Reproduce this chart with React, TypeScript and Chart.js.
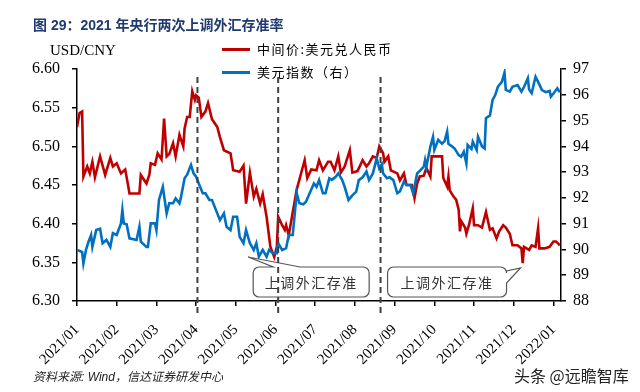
import React, { useEffect, useRef } from "react";
import { Chart, registerables } from "chart.js";

Chart.register(...registerables);

const monthLabels = [
  "2021/01", "2021/02", "2021/03", "2021/04", "2021/05", "2021/06", "2021/07",
  "2021/08", "2021/09", "2021/10", "2021/11", "2021/12", "2022/01",
];

const cnyDates = [
  "2021-01-01", "2021-01-03", "2021-01-05", "2021-01-06", "2021-01-09", "2021-01-11", "2021-01-13", "2021-01-15",
  "2021-01-19", "2021-01-23", "2021-01-27", "2021-01-29", "2021-02-01", "2021-02-04", "2021-02-07", "2021-02-09",
  "2021-02-10", "2021-02-17", "2021-02-18", "2021-02-22", "2021-02-24", "2021-02-25", "2021-02-28", "2021-03-02",
  "2021-03-05", "2021-03-07", "2021-03-09", "2021-03-11", "2021-03-14", "2021-03-16", "2021-03-19", "2021-03-22",
  "2021-03-23", "2021-03-25", "2021-03-27", "2021-03-29", "2021-03-31", "2021-04-01", "2021-04-03", "2021-04-05",
  "2021-04-08", "2021-04-10", "2021-04-13", "2021-04-17", "2021-04-19", "2021-04-22", "2021-04-27", "2021-04-29",
  "2021-05-04", "2021-05-07", "2021-05-09", "2021-05-12", "2021-05-15", "2021-05-17", "2021-05-20", "2021-05-22",
  "2021-05-25", "2021-05-28", "2021-05-31", "2021-06-02", "2021-06-03", "2021-06-06", "2021-06-08", "2021-06-09",
  "2021-06-11", "2021-06-17", "2021-06-23", "2021-06-25", "2021-06-28", "2021-07-02", "2021-07-04", "2021-07-07",
  "2021-07-11", "2021-07-13", "2021-07-16", "2021-07-19", "2021-07-21", "2021-07-24", "2021-07-28", "2021-07-30",
  "2021-08-03", "2021-08-07", "2021-08-10", "2021-08-12", "2021-08-15", "2021-08-18", "2021-08-20", "2021-08-23",
  "2021-08-24", "2021-08-27", "2021-08-29", "2021-09-03", "2021-09-05", "2021-09-08", "2021-09-10", "2021-09-14",
  "2021-09-16", "2021-09-18", "2021-09-20", "2021-09-23", "2021-09-25", "2021-09-28", "2021-09-29", "2021-10-07",
  "2021-10-08", "2021-10-11", "2021-10-12", "2021-10-13", "2021-10-16", "2021-10-18", "2021-10-20", "2021-10-21",
  "2021-10-22", "2021-10-25", "2021-10-26", "2021-10-28", "2021-10-31", "2021-11-01", "2021-11-04", "2021-11-07",
  "2021-11-10", "2021-11-13", "2021-11-15", "2021-11-18", "2021-11-20", "2021-11-23", "2021-11-25", "2021-11-28",
  "2021-11-30", "2021-12-04", "2021-12-07", "2021-12-08", "2021-12-09", "2021-12-13", "2021-12-15", "2021-12-18",
  "2021-12-20", "2021-12-21", "2021-12-25", "2021-12-29", "2022-01-01", "2022-01-03", "2022-01-06",
];
const cnyValues = [
  6.525, 6.543, 6.545, 6.461, 6.474, 6.465, 6.48, 6.46,
  6.487, 6.463, 6.485, 6.474, 6.478, 6.465, 6.47, 6.45,
  6.439, 6.439, 6.463, 6.452, 6.463, 6.478, 6.476, 6.491,
  6.483, 6.536, 6.487, 6.49, 6.504, 6.487, 6.515, 6.5,
  6.523, 6.538, 6.538, 6.571, 6.56, 6.566, 6.563, 6.538,
  6.545, 6.556, 6.535, 6.525, 6.512, 6.495, 6.491, 6.469,
  6.467, 6.475, 6.426, 6.466, 6.435, 6.445, 6.426, 6.438,
  6.409, 6.37, 6.357, 6.37, 6.409, 6.398, 6.392, 6.398,
  6.385, 6.444, 6.482, 6.459, 6.47, 6.469, 6.482, 6.469,
  6.48, 6.48, 6.469, 6.487, 6.466, 6.474, 6.495, 6.466,
  6.468, 6.482, 6.474, 6.478, 6.487, 6.485, 6.5, 6.491,
  6.48, 6.487, 6.469, 6.465, 6.456, 6.465, 6.45, 6.45,
  6.433, 6.452, 6.461, 6.462, 6.472, 6.461, 6.487, 6.487,
  6.459, 6.448, 6.461, 6.443, 6.435, 6.431, 6.418, 6.39,
  6.403, 6.395, 6.387, 6.398, 6.42, 6.398, 6.398, 6.395,
  6.415, 6.392, 6.394, 6.381, 6.39, 6.398, 6.395, 6.387,
  6.372, 6.372, 6.368, 6.349, 6.37, 6.366, 6.372, 6.37,
  6.394, 6.368, 6.368, 6.37, 6.377, 6.377, 6.372,
];

const dxyDates = [
  "2021-01-01", "2021-01-05", "2021-01-06", "2021-01-08", "2021-01-10", "2021-01-12", "2021-01-13", "2021-01-16",
  "2021-01-19", "2021-01-21", "2021-01-24", "2021-01-27", "2021-01-29", "2021-02-01", "2021-02-04", "2021-02-05",
  "2021-02-06", "2021-02-08", "2021-02-10", "2021-02-15", "2021-02-17", "2021-02-18", "2021-02-22", "2021-02-23",
  "2021-02-25", "2021-02-28", "2021-03-01", "2021-03-03", "2021-03-06", "2021-03-09", "2021-03-11", "2021-03-14",
  "2021-03-16", "2021-03-19", "2021-03-20", "2021-03-23", "2021-03-25", "2021-03-28", "2021-03-30", "2021-04-01",
  "2021-04-03", "2021-04-06", "2021-04-08", "2021-04-11", "2021-04-13", "2021-04-17", "2021-04-19", "2021-04-22",
  "2021-04-24", "2021-04-27", "2021-04-29", "2021-05-02", "2021-05-04", "2021-05-07", "2021-05-09", "2021-05-12",
  "2021-05-15", "2021-05-17", "2021-05-19", "2021-05-22", "2021-05-25", "2021-05-27", "2021-05-30", "2021-06-02",
  "2021-06-03", "2021-06-06", "2021-06-09", "2021-06-11", "2021-06-14", "2021-06-17", "2021-06-19", "2021-06-22",
  "2021-06-24", "2021-06-30", "2021-07-02", "2021-07-04", "2021-07-07", "2021-07-09", "2021-07-12", "2021-07-14",
  "2021-07-17", "2021-07-19", "2021-07-22", "2021-07-24", "2021-07-27", "2021-07-30", "2021-08-02", "2021-08-04",
  "2021-08-07", "2021-08-10", "2021-08-12", "2021-08-15", "2021-08-18", "2021-08-20", "2021-08-22", "2021-08-23",
  "2021-08-26", "2021-08-28", "2021-08-31", "2021-09-03", "2021-09-05", "2021-09-08", "2021-09-10", "2021-09-13",
  "2021-09-15", "2021-09-18", "2021-09-20", "2021-09-23", "2021-09-24", "2021-09-25", "2021-09-28", "2021-09-30",
  "2021-10-01", "2021-10-04", "2021-10-07", "2021-10-09", "2021-10-11", "2021-10-12", "2021-10-15", "2021-10-17",
  "2021-10-20", "2021-10-22", "2021-10-24", "2021-10-26", "2021-10-27", "2021-10-30", "2021-10-31", "2021-11-03",
  "2021-11-04", "2021-11-07", "2021-11-09", "2021-11-10", "2021-11-13", "2021-11-15", "2021-11-17", "2021-11-19",
  "2021-11-22", "2021-11-24", "2021-11-25", "2021-11-28", "2021-11-30", "2021-12-04", "2021-12-07", "2021-12-09",
  "2021-12-12", "2021-12-13", "2021-12-15", "2021-12-18", "2021-12-20", "2021-12-23", "2021-12-26", "2021-12-29",
  "2021-12-30", "2022-01-01", "2022-01-04", "2022-01-06",
];
const dxyValues = [
  89.98, 89.9, 89.46, 89.98, 90.3, 90.56, 90.1, 90.75,
  90.8, 90.24, 90.37, 90.1, 90.63, 90.56, 91.01, 91.53,
  91.01, 90.98, 90.43, 90.37, 90.88, 90.3, 90.1, 90.1,
  91.01, 91.01, 90.75, 91.92, 92.43, 91.4, 91.79, 91.79,
  91.98, 91.79, 91.98, 92.76, 92.9, 93.28, 92.95, 92.82,
  92.56, 92.18, 92.18, 91.92, 91.92, 91.4, 91.14, 91.4,
  90.88, 90.75, 91.27, 91.27, 90.49, 90.24, 90.75, 90.24,
  89.98, 90.24, 89.72, 89.98, 89.72, 89.98, 89.85, 89.85,
  90.24, 89.98, 90.05, 90.56, 90.56, 92.18, 91.79, 91.75,
  91.85, 92.56, 92.43, 92.69, 92.18, 92.18, 92.76, 92.7,
  92.82, 92.95, 92.7, 92.43, 91.92, 92.1, 92.24, 92.69,
  92.8, 93.02, 92.69, 92.95, 93.53, 93.15, 93.3, 92.95,
  92.76, 92.8, 92.69, 92.18, 92.25, 92.63, 92.5, 92.5,
  92.18, 92.95, 93.05, 93.21, 93.47, 93.2, 93.99, 94.37,
  93.86, 94.25, 94.1, 94.2, 94.57, 94.1, 93.99, 93.9,
  93.66, 93.6, 93.79, 93.34, 94.05, 93.9, 94.18, 93.86,
  94.37, 94.0, 93.92, 95.09, 95.2, 95.8, 95.99, 96.31,
  96.5, 96.86, 96.19, 96.12, 96.31, 96.38, 96.12, 96.3,
  96.64, 96.2, 96.06, 96.7, 96.5, 96.18, 96.1, 96.15,
  95.93, 96.05, 96.25, 96.1,
];

const eventDates = ["2021-04-02", "2021-06-03", "2021-08-21"];
const calloutText = "上调外汇存准";
const cnyLabel = "中间价:美元兑人民币";
const dxyLabel = "美元指数（右）";
const titleText = "图 29：2021 年央行两次上调外汇存准率";
const sourceText = "资料来源: Wind，信达证券研发中心";
const watermarkText = "头条 @远瞻智库";

const RED = "#C00000";
const BLUE = "#0070C0";

function monthPos(d: string): number {
  const [y, m, day] = d.split("-").map(Number);
  const dim = new Date(y, m, 0).getDate();
  return (y - 2021) * 12 + (m - 1) + (day - 1) / dim;
}

function calloutPath(
  ctx: CanvasRenderingContext2D,
  x: number, y: number, w: number, h: number, r: number,
  tail: { side: "top" | "right"; a: number; b: number; tx: number; ty: number }
) {
  ctx.beginPath();
  ctx.moveTo(x + r, y);
  if (tail.side === "top") {
    ctx.lineTo(tail.a, y);
    ctx.lineTo(tail.tx, tail.ty);
    ctx.lineTo(tail.b, y);
  }
  ctx.lineTo(x + w - r, y);
  ctx.arcTo(x + w, y, x + w, y + r, r);
  if (tail.side === "right") {
    ctx.lineTo(x + w, tail.a);
    ctx.lineTo(tail.tx, tail.ty);
    ctx.lineTo(x + w, tail.b);
  }
  ctx.lineTo(x + w, y + h - r);
  ctx.arcTo(x + w, y + h, x + w - r, y + h, r);
  ctx.lineTo(x + r, y + h);
  ctx.arcTo(x, y + h, x, y + h - r, r);
  ctx.lineTo(x, y + r);
  ctx.arcTo(x, y, x + r, y, r);
  ctx.closePath();
}

const annotationPlugin = {
  id: "eventAnnotations",
  afterDatasetsDraw(chart: any) {
    const { ctx, chartArea, scales } = chart;
    const xs = eventDates.map((d) => scales.x.getPixelForValue(monthPos(d)));
    ctx.save();
    const top = chartArea.bottom - 34;
    const h = 30;
    const boxes = [
      { x: xs[1] - 25, w: 116, tail: { side: "top" as const, a: xs[1] - 5, b: xs[1] + 22, tx: xs[1] - 30, ty: top - 10 } },
      { x: xs[2] + 7, w: 119, tail: { side: "right" as const, a: top + 4, b: top + 16, tx: xs[2] + 140, ty: top + 1 } },
    ];
    ctx.font = "14px 'Noto Sans CJK SC'";
    (ctx as any).letterSpacing = "1.5px";
    ctx.textAlign = "center";
    ctx.textBaseline = "middle";
    for (const b of boxes) {
      calloutPath(ctx, b.x, top, b.w, h, 6, b.tail);
      ctx.fillStyle = "#ffffff";
      ctx.fill();
      ctx.strokeStyle = "#555555";
      ctx.lineWidth = 1.2;
      ctx.stroke();
      ctx.fillStyle = "#333333";
      ctx.fillText(calloutText, b.x + b.w / 2, top + h / 2 + 1);
    }
    (ctx as any).letterSpacing = "0px";
    ctx.strokeStyle = "#404040";
    ctx.lineWidth = 2;
    ctx.setLineDash([6, 4]);
    for (const x of xs) {
      ctx.beginPath();
      ctx.moveTo(x, chartArea.top + 8);
      ctx.lineTo(x, chartArea.bottom + 13);
      ctx.stroke();
    }
    ctx.restore();
  },
};

export default function App() {
  const canvasRef = useRef<HTMLCanvasElement | null>(null);

  useEffect(() => {
    document.body.style.margin = "0";
    const canvas = canvasRef.current;
    if (!canvas) return;
    const axisFont = { family: "'Liberation Serif', 'Times New Roman', serif", size: 16 };
    const chart = new Chart(canvas, {
      type: "line",
      data: {
        datasets: [
          {
            label: dxyLabel,
            data: dxyDates.map((d, i) => ({ x: monthPos(d), y: dxyValues[i] })),
            borderColor: BLUE,
            borderWidth: 2.6,
            pointRadius: 0,
            tension: 0,
            yAxisID: "yR",
            order: 0,
          },
          {
            label: cnyLabel,
            data: cnyDates.map((d, i) => ({ x: monthPos(d), y: cnyValues[i] })),
            borderColor: RED,
            borderWidth: 2.6,
            pointRadius: 0,
            tension: 0,
            yAxisID: "yL",
            order: 1,
          },
        ],
      },
      options: {
        animation: false,
        responsive: false,
        devicePixelRatio: 1,
        layout: { padding: { top: 69, left: 0, right: 0, bottom: 0 } },
        plugins: { legend: { display: false }, tooltip: { enabled: false }, title: { display: false } },
        scales: {
          x: {
            type: "linear",
            position: "bottom",
            min: 0,
            max: 12.19,
            afterBuildTicks: (scale: any) => {
              scale.ticks = monthLabels.map((_, i) => ({ value: i }));
            },
            afterFit: (scale: any) => {
              scale.height = 91;
            },
            ticks: {
              autoSkip: false,
              maxRotation: 45,
              minRotation: 45,
              padding: 15,
              color: "#000",
              font: { ...axisFont, size: 15 },
              callback: (v: any) => monthLabels[Math.round(Number(v))] ?? "",
            },
            grid: { display: true, drawOnChartArea: false, drawTicks: true, tickLength: 5, color: "#000", lineWidth: 1.5 },
            border: { display: true, color: "#000", width: 1.5 },
          },
          yL: {
            type: "linear",
            position: "left",
            min: 6.3,
            max: 6.6,
            afterFit: (scale: any) => {
              scale.width = 77;
            },
            ticks: {
              stepSize: 0.05,
              padding: 12,
              color: "#000",
              font: axisFont,
              callback: (v: any) => Number(v).toFixed(2),
            },
            grid: { display: true, drawOnChartArea: false, drawTicks: true, tickLength: 5, color: "#000", lineWidth: 1.5 },
            border: { display: true, color: "#000", width: 1.5 },
          },
          yR: {
            type: "linear",
            position: "right",
            min: 88,
            max: 97,
            afterFit: (scale: any) => {
              scale.width = 79;
            },
            ticks: {
              stepSize: 1,
              padding: 7,
              color: "#000",
              font: axisFont,
              callback: (v: any) => String(v),
            },
            grid: { display: true, drawOnChartArea: false, drawTicks: true, tickLength: 5, color: "#000", lineWidth: 1.5 },
            border: { display: true, color: "#000", width: 1.5 },
          },
        },
      } as any,
      plugins: [annotationPlugin],
    });
    return () => chart.destroy();
  }, []);

  const abs = (s: React.CSSProperties): React.CSSProperties => ({ position: "absolute", whiteSpace: "nowrap", lineHeight: 1, ...s });
  const cjk = "'Noto Sans CJK SC', sans-serif";

  return (
    <div style={{ position: "absolute", left: 0, top: 0, width: 640, height: 392, background: "#fff", overflow: "hidden" }}>
      <canvas ref={canvasRef} width={640} height={392} style={{ position: "absolute", left: 0, top: 0, width: 640, height: 392 }} />
      <div style={abs({ left: 33, top: 18, fontFamily: "'Liberation Sans', " + cjk, fontWeight: 700, fontSize: 14, color: "#1F3A6E" })}>
        {titleText}
      </div>
      <div style={abs({ left: 50, top: 43, fontFamily: "'Liberation Serif', serif", fontSize: 15, color: "#000" })}>USD/CNY</div>
      <div style={abs({ left: 222, top: 48, width: 28, height: 0, borderTop: `3px solid ${RED}` })} />
      <div style={abs({ left: 257, top: 42, fontFamily: cjk, fontSize: 13, letterSpacing: 1.5, color: "#000" })}>{cnyLabel}</div>
      <div style={abs({ left: 222, top: 71, width: 28, height: 0, borderTop: `3px solid ${BLUE}` })} />
      <div style={abs({ left: 257, top: 65, fontFamily: cjk, fontSize: 13, letterSpacing: 1.5, color: "#000" })}>{dxyLabel}</div>
      <div style={abs({ left: 33, top: 371, fontFamily: "'Liberation Sans', " + cjk, fontStyle: "italic", fontSize: 12, color: "#222" })}>
        {sourceText}
      </div>
      <div style={abs({ left: 514, top: 367, fontFamily: cjk, fontSize: 16, color: "#222" })}>{watermarkText}</div>
    </div>
  );
}
